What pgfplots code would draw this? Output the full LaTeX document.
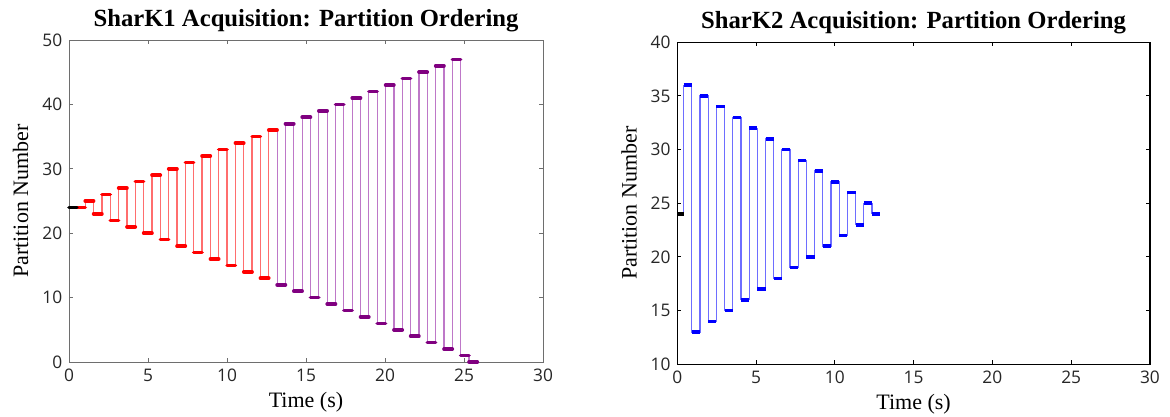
\documentclass[border=0pt]{standalone}
\usepackage{pgfplots}
\pgfplotsset{compat=1.18}
\usepackage{pgfplotstable}
\usepackage{fontspec}
\setmainfont{Liberation Serif}
\newfontfamily\ticksf{Open Sans}

\definecolor{tickgray}{RGB}{38,38,38}
\definecolor{axgray}{RGB}{110,110,110}
\definecolor{mypurple}{RGB}{128,0,128}
\definecolor{lightpurple}{RGB}{190,120,200}
\definecolor{lightred}{RGB}{255,110,110}
\definecolor{lightblue}{RGB}{110,110,255}

\pgfplotstableread{
t p
0.000 24
0.500 24
1.028 25
1.556 23
2.084 26
2.612 22
3.140 27
3.668 21
4.196 28
4.724 20
5.252 29
5.780 19
6.308 30
6.836 18
7.364 31
7.892 17
8.420 32
8.948 16
9.476 33
10.004 15
10.532 34
11.060 14
11.588 35
12.116 13
12.644 36
13.172 12
13.700 37
14.228 11
14.756 38
15.284 10
15.812 39
16.340 9
16.868 40
17.396 8
17.924 41
18.452 7
18.980 42
19.508 6
20.036 43
20.564 5
21.092 44
21.620 4
22.148 45
22.676 3
23.204 46
23.732 2
24.260 47
24.788 1
25.316 0
}\sharkA

\pgfplotstableread{
t p
0.00 24
0.40 36
0.92 13
1.44 35
1.96 14
2.48 34
3.00 15
3.52 33
4.04 16
4.56 32
5.08 17
5.60 31
6.12 18
6.64 30
7.16 19
7.68 29
8.20 20
8.72 28
9.24 21
9.76 27
10.28 22
10.80 26
11.32 23
11.84 25
12.36 24
}\sharkB

\pgfplotsset{
  sharkstyle/.style={
    scale only axis,
    xmin=0, xmax=30,
    xtick={0,5,...,30},
    tick align=inside,
    major tick length=3pt,
    clip=false,
    /pgf/number format/assume math mode=true,
    ticklabel style={font=\ticksf\fontsize{13}{15}\selectfont, text=tickgray},
    xticklabel style={yshift=-1.5pt},
    yticklabel style={xshift=-1.5pt},
    title style={font=\bfseries\fontsize{18.5}{22}\selectfont, at={(axis description cs:0.5,1)}, anchor=base, yshift=4.5pt},
    xlabel style={font=\fontsize{16.5}{19}\selectfont, at={(axis description cs:0.5,0)}, anchor=base, yshift=-34pt},
    ylabel style={font=\fontsize{16.5}{19}\selectfont, at={(axis description cs:-0.086,0.5)}, anchor=base},
  }
}

\begin{document}
\begin{tikzpicture}
\useasboundingbox (-51.75pt,-41.25pt) rectangle (825.75pt,271.5pt);

\begin{axis}[sharkstyle,
  at={(0pt,0pt)}, anchor=south west,
  width=355.5pt, height=241.5pt,
  ymin=0, ymax=50, ytick={0,10,...,50},
  axis line style={draw=axgray, line width=0.7pt},
  tick style={draw=axgray, line width=0.7pt},
  title={SharK1 Acquisition: Partition Ordering},
  xlabel={Time (s)}, ylabel={Partition Number}]
\addplot[const plot, draw=lightred, line width=0.9pt, restrict x to domain=-1:12.7] table[x=t,y=p]{\sharkA};
\addplot[const plot, draw=lightpurple, line width=0.9pt, restrict x to domain=12.6:30] table[x=t,y=p]{\sharkA};
\addplot[quiver={u=0.528,v=0}, draw=red, line width=2.7pt, line cap=round, restrict x to domain=0.4:12.7] table[x=t,y=p]{\sharkA};
\addplot[quiver={u=0.528,v=0}, draw=mypurple, line width=2.7pt, line cap=round, restrict x to domain=13:30] table[x=t,y=p]{\sharkA};
\addplot[quiver={u=0.5,v=0}, draw=black, line width=2.7pt, line cap=round] coordinates {(0,24)};
\end{axis}

\begin{axis}[sharkstyle,
  at={(456.2pt,-1.7pt)}, anchor=south west,
  width=354.5pt, height=241.5pt,
  ymin=10, ymax=40, ytick={10,15,...,40},
  axis line style={draw=black, line width=1pt},
  tick style={draw=black, line width=0.7pt},
  title={SharK2 Acquisition: Partition Ordering},
  xlabel={Time (s)}, ylabel={Partition Number}]
\addplot[const plot, draw=lightblue, line width=0.9pt] table[x=t,y=p]{\sharkB};
\addplot[quiver={u=0.52,v=0}, draw=blue, line width=2.7pt, line cap=butt, restrict x to domain=0.3:30] table[x=t,y=p]{\sharkB};
\addplot[quiver={u=0.4,v=0}, draw=black, line width=2.7pt, line cap=butt] coordinates {(0,24)};
\end{axis}
\end{tikzpicture}
\end{document}
